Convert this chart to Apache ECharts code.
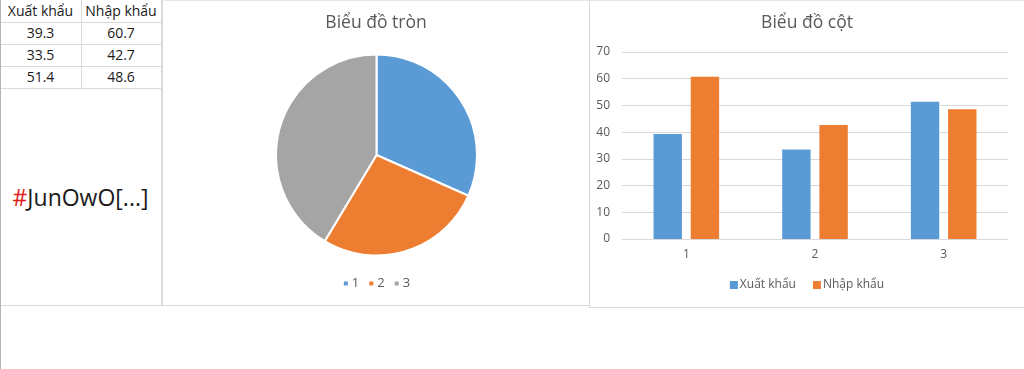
<!DOCTYPE html>
<html>
<head>
<meta charset="utf-8">
<script src="https://cdn.jsdelivr.net/npm/echarts@6/dist/echarts.min.js"></script>
<style>
  html, body { margin: 0; padding: 0; background: #fff; }
  #root { position: relative; width: 1024px; height: 369px; overflow: hidden; font-family: "Open Sans", sans-serif; }
  .line { position: absolute; background: #d9d9d9; }
  .cell { position: absolute; text-align: center; font-size: 14px; color: #1a1a1a; line-height: 22px; }
  #tag { position: absolute; left: 0; top: 88px; width: 161px; height: 217px; display: flex; align-items: center; justify-content: center; font-size: 23px; color: #1a1a1a; }
  #tag .hash { color: #e0201b; }
  #pie { position: absolute; left: 163px; top: 0; width: 426px; height: 305px; }
  #bar { position: absolute; left: 590px; top: 0; width: 434px; height: 307px; }
</style>
</head>
<body>
<div id="root">
  <div id="table"></div>
  <div id="tag"><span class="hash">#</span>JunOwO[...]</div>
  <div id="pie"></div>
  <div id="bar"></div>
</div>
<script>
const categories = ['1', '2', '3'];
const seriesNames = ['Xuất khẩu', 'Nhập khẩu'];
const exportValues = [39.3, 33.5, 51.4];
const importValues = [60.7, 42.7, 48.6];
const pieTitle = 'Biểu đồ tròn';
const barTitle = 'Biểu đồ cột';
const yTicks = { min: 0, max: 70, interval: 10 };

const blue = '#5b9bd5', orange = '#ed7d31', gray = '#a5a5a5';
const textColor = '#595959';
const font = '"Open Sans", sans-serif';

// --- table (HTML)
const root = document.getElementById('table');
function addLine(l, t, w, h, c) {
  const d = document.createElement('div');
  d.className = 'line';
  d.style.left = l + 'px'; d.style.top = t + 'px';
  d.style.width = w + 'px'; d.style.height = h + 'px';
  if (c) d.style.background = c;
  root.appendChild(d);
}
function addCell(text, l, t, w) {
  const d = document.createElement('div');
  d.className = 'cell';
  d.style.left = l + 'px'; d.style.top = t + 'px'; d.style.width = w + 'px';
  d.textContent = text;
  root.appendChild(d);
}
const colX = [0, 81, 161];
const rowH = 22;
const rows = [seriesNames].concat(exportValues.map((v, i) => [v.toFixed(1), importValues[i].toFixed(1)]));
rows.forEach((r, ri) => {
  r.forEach((txt, ci) => addCell(txt, colX[ci], ri * rowH, colX[ci + 1] - colX[ci]));
  addLine(0, (ri + 1) * rowH, 161, 1);
});
for (let ri = 0; ri < rows.length; ri++) addLine(81, ri * rowH, 1, rowH);
addLine(161, 0, 1, 305);
addLine(0, 305, 162, 1);
addLine(0, 0, 1, 369, '#b4b4b4');
// panel borders
addLine(162, 0, 1, 305);
addLine(162, 305, 427, 1);
addLine(589, 0, 1, 307);
addLine(589, 307, 435, 1);
addLine(162, 0, 862, 1, '#e6e6e6');

// --- pie
const pieChart = echarts.init(document.getElementById('pie'));
pieChart.setOption({
  animation: false,
  color: [blue, orange, gray],
  title: {
    text: pieTitle, left: 'center', top: 12, padding: 0,
    textStyle: { fontFamily: font, fontSize: 17.5, fontWeight: 'normal', color: textColor, lineHeight: 22 }
  },
  legend: {
    data: categories, left: 'center', top: 277, padding: 0,
    icon: 'rect', itemWidth: 6, itemHeight: 6, itemGap: 8,
    textStyle: { fontFamily: font, fontSize: 13, color: textColor, padding: [0, 0, 0, -2] }
  },
  series: [{
    type: 'pie',
    center: [213.5, 155],
    radius: 100.5,
    startAngle: 90,
    clockwise: true,
    label: { show: false },
    labelLine: { show: false },
    itemStyle: { borderColor: '#fff', borderWidth: 2 },
    data: categories.map((c, i) => ({ name: c, value: exportValues[i] }))
  }]
});

// --- bar
const barChart = echarts.init(document.getElementById('bar'));
barChart.setOption({
  animation: false,
  color: [blue, orange],
  title: {
    text: barTitle, left: 'center', top: 12, padding: 0,
    textStyle: { fontFamily: font, fontSize: 17.5, fontWeight: 'normal', color: textColor, lineHeight: 22 }
  },
  legend: {
    data: seriesNames, left: 'center', top: 279, padding: 0,
    icon: 'rect', itemWidth: 8, itemHeight: 8, itemGap: 17,
    textStyle: { fontFamily: font, fontSize: 12, color: textColor, padding: [0, 0, 0, -3] }
  },
  grid: { left: 32, right: 16, top: 52, bottom: 68 },
  xAxis: {
    type: 'category', data: categories,
    axisLine: { lineStyle: { color: '#d9d9d9' } },
    axisTick: { show: false },
    axisLabel: { fontFamily: font, fontSize: 12, color: textColor, margin: 10 }
  },
  yAxis: {
    type: 'value', min: yTicks.min, max: yTicks.max, interval: yTicks.interval,
    axisLine: { show: false }, axisTick: { show: false },
    splitLine: { lineStyle: { color: '#d9d9d9' } },
    axisLabel: { fontFamily: font, fontSize: 12, color: textColor, margin: 12 }
  },
  series: [
    { name: seriesNames[0], type: 'bar', data: exportValues, barGap: '31%', barCategoryGap: '49%' },
    { name: seriesNames[1], type: 'bar', data: importValues, barGap: '31%', barCategoryGap: '49%' }
  ]
});
</script>
</body>
</html>
